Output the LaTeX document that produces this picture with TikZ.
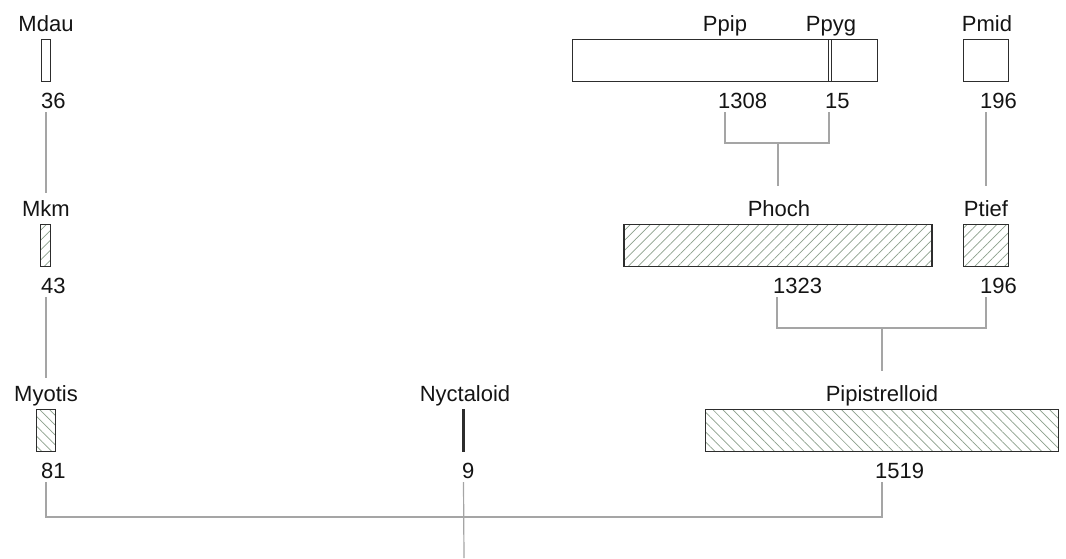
\documentclass[tikz,border=0pt]{standalone}
\usepackage{fontspec}
\setmainfont{Liberation Sans}
\usetikzlibrary{calc,patterns.meta}
\definecolor{barc}{RGB}{45,45,45}
\definecolor{connc}{RGB}{165,165,165}
\definecolor{hatchc}{RGB}{140,160,140}
\definecolor{txtc}{RGB}{20,20,20}
\begin{document}
\begin{tikzpicture}[x=1pt,y=-1pt,
  lbl/.style={font=\fontsize{22}{26}\selectfont, text=txtc, anchor=base, inner sep=0pt},
  num/.style={lbl, anchor=base west},
  bar/.style={rectangle, draw=barc, line width=1.35pt, fill=white, inner sep=0pt, minimum height=42pt},
  hbar/.style={rectangle, draw=barc, line width=1.35pt, inner sep=0pt, minimum height=42pt, preaction={fill=white}, pattern color=hatchc},
  hne/.style={hbar, pattern={Lines[angle=45,distance=7pt,line width=0.7pt]}},
  hnw/.style={hbar, pattern={Lines[angle=-45,distance=7pt,line width=0.7pt]}},
  conn/.style={draw=connc, line width=1.2pt},
]
\path[use as bounding box] (0,0) rectangle (1066,558);

% ---- row 1 ----
\node[bar, minimum width=8.4pt] (mdau) at (46,60.5) {};
\node[lbl] (mdauL) at (46,31) {Mdau};
\node[num] (mdauN) at (41,108) {36};

\node[bar, minimum width=304.5pt] (ppip) at (725,60.5) {};
\node[lbl] (ppipL) at (725,31) {Ppip};
\node[num] (ppipN) at (718,108) {1308};

\node[bar, minimum width=3.5pt] (ppyg) at (830,60.5) {};
\node[lbl] (ppygL) at (831,31) {Ppyg};
\node[num] (ppygN) at (825,108) {15};

\node[bar, minimum width=45.6pt] (pmid) at (986,60.5) {};
\node[lbl] (pmidL) at (987,31) {Pmid};
\node[num] (pmidN) at (980,108) {196};

% ---- row 2 ----
\node[hne, minimum width=10pt] (mkm) at (45.5,245.5) {};
\node[lbl] (mkmL) at (46,216) {Mkm};
\node[num] (mkmN) at (41,293) {43};

\node[hne, minimum width=308pt] (phoch) at (778,245.5) {};
\node[lbl] (phochL) at (779,216) {Phoch};
\node[num] (phochN) at (773,293) {1323};

\node[hne, minimum width=45.6pt] (ptief) at (986,245.5) {};
\node[lbl] (ptiefL) at (986,216) {Ptief};
\node[num] (ptiefN) at (980,293) {196};

% ---- row 3 ----
\node[hnw, minimum width=18.9pt] (myotis) at (46,430.5) {};
\node[lbl] (myotisL) at (46,401) {Myotis};
\node[num] (myotisN) at (41,478) {81};

\node[bar, fill=barc, minimum width=2.1pt] (nyct) at (463.5,430.5) {};
\node[lbl] (nyctL) at (465,401) {Nyctaloid};
\node[num] (nyctN) at (462,478) {9};

\node[hnw, minimum width=353.6pt] (pipi) at (882,430.5) {};
\node[lbl] (pipiL) at (882,401) {Pipistrelloid};
\node[num] (pipiN) at (875,478) {1519};

% ---- junctions ----
\coordinate (j1) at (778,143);
\coordinate (j2) at (882,328);
\coordinate (j3) at (464,517);
\coordinate (root) at (464,558);

% ---- connectors ----
\draw[conn] ($(mdau.south)+(0,30)$) -- ($(mdau.south |- mkmL.north)+(0,-7)$);
\draw[conn] ($(ppip.south)+(0,30)$) |- (j1) -| ($(ppyg.south)+(-1,30)$);
\draw[conn] (j1) -- ($(j1 |- phochL.north)+(0,-14)$);
\draw[conn] ($(pmid.south)+(0,30)$) -- ($(pmid.south |- ptiefL.north)+(0,-14)$);

\draw[conn] ($(mkm.south)+(0.5,30)$) -- ($(myotis.south |- myotisL.north)+(0,-7)$);
\draw[conn] ($(phoch.south)+(-1,30)$) |- (j2) -| ($(ptief.south)+(0,30)$);
\draw[conn] (j2) -- ($(j2 |- pipiL.north)+(0,-14)$);

\draw[conn] ($(myotis.south)+(0,30)$) |- (j3) -| ($(pipi.south)+(0,30)$);
\draw[conn] ($(nyct.south)+(0,30)$) -- (root);
\end{tikzpicture}
\end{document}
